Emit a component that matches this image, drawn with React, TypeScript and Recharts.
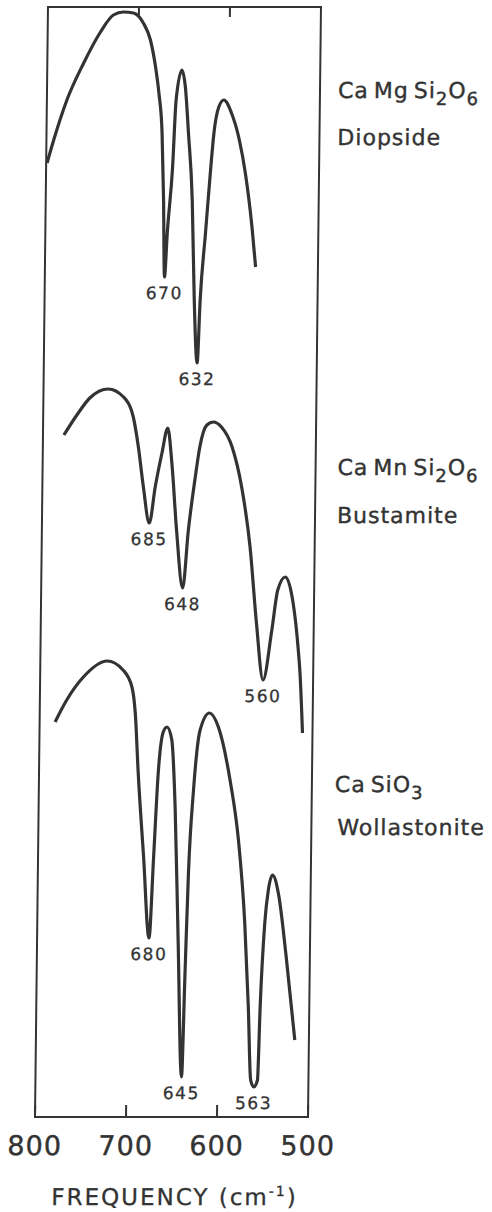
import { LineChart, Line, XAxis, YAxis, ReferenceArea, ReferenceDot, Label } from 'recharts';

const ink = '#333';
const font = '"DejaVu Sans", sans-serif';

const freqTicks = [800, 700, 600, 500];
const topTicks = [700, 600];

// frequency (cm-1) and offset transmittance
const diopsideF = [799, 792, 778, 760, 742, 728, 717, 706, 695, 687, 681, 677, 673, 670.5, 668.5, 666, 661, 658, 652, 648, 644, 639, 635.5, 631.5, 629, 624, 619, 616, 611, 605.5, 597, 588, 581, 573, 568.5];
const diopsideT = [95.4, 97.7, 101.7, 105.4, 108.5, 110.2, 110.5, 110.4, 109.4, 107.7, 105, 102.4, 98.4, 91.7, 84, 88.4, 95, 101.7, 104.7, 103, 98.4, 91.7, 81.7, 75.4, 81.7, 88.4, 95, 98.4, 101, 101.7, 100.4, 97.7, 94.4, 89, 85];

const bustamiteF = [777, 763, 749, 729, 712, 701, 695, 689, 682, 676, 669, 663, 658, 652, 644.5, 639, 632.5, 627.5, 620, 613, 604, 592, 581, 571, 563, 555, 546, 540, 532, 525, 517, 514.5, 511];
const bustamiteT = [68.2, 70.2, 71.9, 72.8, 72, 70, 67, 63, 59.4, 63, 66.4, 68.9, 65.4, 58.7, 52.9, 58.7, 63.7, 67, 69.2, 69.5, 69, 67, 63, 57, 49.4, 43.7, 48.7, 52.7, 54, 52.4, 47, 44.4, 38.4];

const wollastoniteF = [783, 770.5, 752.5, 726.5, 709, 699, 695, 691, 684, 677, 673, 669, 664, 660, 654.5, 650, 645, 639.5, 637, 634.5, 630, 623.5, 613.5, 603.5, 590, 580, 572, 567, 563.5, 560, 556, 554, 550, 546.5, 542, 535.5, 526, 515.5];
const wollastoniteT = [39.5, 41.7, 44, 45.6, 44.7, 43, 40.4, 34.4, 26, 17.9, 26, 34.4, 38.5, 39, 37.7, 31, 17.7, 4, 14.4, 24.4, 32.7, 38.7, 40.4, 39, 33.7, 27.7, 19.4, 11, 3.7, 3, 3.7, 11, 19.4, 22.7, 24.2, 22.4, 16, 7.7];

const diopsidePeaks = [
  { label: '670', f: 668.5, t: 84 },
  { label: '632', f: 631.5, t: 75.4 },
];
const bustamitePeaks = [
  { label: '685', f: 682, t: 59.4 },
  { label: '648', f: 644.5, t: 52.9 },
  { label: '560', f: 555, t: 43.7 },
];
const wollastonitePeaks = [
  { label: '680', f: 677, t: 17.9 },
  { label: '645', f: 639.5, t: 4 },
  { label: '563', f: 560, t: 3 },
];

const zip = (f: number[], t: number[]) => f.map((v, i) => ({ f: v, t: t[i] }));

const series = [zip(diopsideF, diopsideT), zip(bustamiteF, bustamiteT), zip(wollastoniteF, wollastoniteT)];
const peaks = [...diopsidePeaks, ...bustamitePeaks, ...wollastonitePeaks];

const BottomTick = ({ x, y, payload }: any) => (
  <g>
    <line x1={x} x2={x} y1={y} y2={y - 12} stroke={ink} strokeWidth={2} />
    <text x={x} y={y + 38} textAnchor="middle" fontSize={27} fontFamily={font} fill={ink} stroke={ink} strokeWidth={0.4} letterSpacing={1}>
      {payload.value}
    </text>
  </g>
);

const TopTick = ({ x, y }: any) => <line x1={x} x2={x} y1={y} y2={y + 10} stroke={ink} strokeWidth={2} />;

const Title = ({ viewBox }: any) => (
  <text x={viewBox.x + viewBox.width / 2 + 4} y={viewBox.y + 88} textAnchor="middle" fontSize={23} fontFamily={font} fill={ink} stroke={ink} strokeWidth={0.3} letterSpacing={2}>
    FREQUENCY (cm
    <tspan fontSize={14} dy={-9}>-1</tspan>
    <tspan dy={9}>)</tspan>
  </text>
);

const nameStyle = { position: 'absolute' as const, fontFamily: font, fontSize: 22, lineHeight: '22px', color: ink, letterSpacing: 1, wordSpacing: -3, whiteSpace: 'nowrap' as const, WebkitTextStroke: '0.4px #333' };
const subStyle = { fontSize: 18, verticalAlign: -7, lineHeight: 0 };

export default function App() {
  return (
    <div style={{ position: 'absolute', left: 0, top: 0, width: 492, height: 1212, background: '#fff', transform: 'skewX(-0.67deg)', transformOrigin: '0 1117px' }}>
      <LineChart width={492} height={1212} margin={{ top: 6, right: 184, bottom: 94, left: 35 }}>
        <XAxis dataKey="f" type="number" domain={[500, 800]} reversed ticks={freqTicks} interval={0} height={1} axisLine={false} tickLine={false} tickSize={0} tickMargin={0} tick={<BottomTick />} allowDataOverflow>
          <Label content={<Title />} />
        </XAxis>
        <XAxis xAxisId="top" orientation="top" dataKey="f" type="number" domain={[500, 800]} reversed ticks={topTicks} interval={0} height={1} axisLine={false} tickLine={false} tickSize={0} tickMargin={0} tick={<TopTick />} allowDataOverflow />
        <YAxis type="number" domain={[0, 111]} hide width={0} allowDataOverflow />
        <ReferenceArea x1={800} x2={500} y1={0} y2={111} fill="none" stroke={ink} strokeWidth={2} fillOpacity={0} />
        {series.map((d, i) => (
          <Line key={i} data={d} dataKey="t" type="monotone" stroke={ink} strokeWidth={3.2} dot={false} isAnimationActive={false} />
        ))}
        {peaks.map((p) => (
          <ReferenceDot key={p.label} x={p.f} y={p.t} r={1} fill="none" stroke="none" label={{ value: p.label, position: 'bottom', offset: 9, fontSize: 17, fontFamily: font, fill: ink, stroke: ink, strokeWidth: 0.3, letterSpacing: 1.5 }} />
        ))}
      </LineChart>
      <div style={{ ...nameStyle, left: 326, top: 80 }}>
        Ca Mg Si<sub style={subStyle}>2</sub>O<sub style={subStyle}>6</sub>
      </div>
      <div style={{ ...nameStyle, left: 326, top: 127 }}>Diopside</div>
      <div style={{ ...nameStyle, left: 330, top: 457 }}>
        Ca Mn Si<sub style={subStyle}>2</sub>O<sub style={subStyle}>6</sub>
      </div>
      <div style={{ ...nameStyle, left: 330, top: 505 }}>Bustamite</div>
      <div style={{ ...nameStyle, left: 331, top: 774 }}>
        Ca SiO<sub style={subStyle}>3</sub>
      </div>
      <div style={{ ...nameStyle, left: 334, top: 817 }}>Wollastonite</div>
    </div>
  );
}
